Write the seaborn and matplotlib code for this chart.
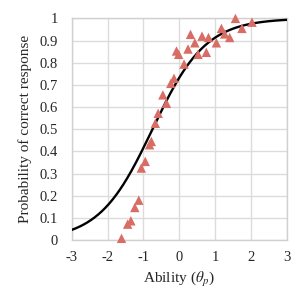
import numpy as np
import pandas as pd
import seaborn as sns
import matplotlib.pyplot as plt

ability = [1.56, 2.02, 1.74, 1.17, 1.26, 1.40, 1.03, 0.31, 0.63, 0.81, 0.43,
           0.24, -0.08, -0.02, 0.52, 0.75, 0.13, -0.15, -0.24, -0.46, -0.36,
           -0.59, -0.67, -0.78, -0.83, -0.95, -1.06, -1.13, -1.24, -1.35,
           -1.44, -1.61]
p_correct = [1.0, 0.983, 0.955, 0.955, 0.93, 0.914, 0.89, 0.928, 0.92, 0.914,
             0.89, 0.862, 0.853, 0.838, 0.838, 0.847, 0.794, 0.73, 0.707,
             0.655, 0.617, 0.572, 0.527, 0.445, 0.43, 0.355, 0.325, 0.18,
             0.147, 0.087, 0.072, 0.008]

# item characteristic curve parameters (2PL)
discrimination = 1.35
difficulty = -0.75

x_ticks = [-3, -2, -1, 0, 1, 2, 3]
y_ticks = [0, 0.1, 0.2, 0.3, 0.4, 0.5, 0.6, 0.7, 0.8, 0.9, 1]
y_ticklabels = ['0', '0.1', '0.2', '0.3', '0.4', '0.5', '0.6', '0.7', '0.8', '0.9', '1']

obs_df = pd.DataFrame({'theta': ability, 'p': p_correct})
theta_grid = np.linspace(-3, 3, 300)
icc_df = pd.DataFrame({'theta': theta_grid,
                       'p': 1 / (1 + np.exp(-discrimination * (theta_grid - difficulty)))})

sns.set_style("white")
plt.rcParams['font.family'] = ['Liberation Serif', 'DejaVu Serif']
plt.rcParams['mathtext.fontset'] = 'stix'
plt.rcParams['axes.unicode_minus'] = False

fig = plt.figure(figsize=(3.02, 3.02), dpi=100)
ax = fig.add_axes([0.237, 0.205, 0.714, 0.734])

sns.lineplot(data=icc_df, x='theta', y='p', color='black', linewidth=1.7, ax=ax, zorder=3)
sns.scatterplot(data=obs_df, x='theta', y='p', marker='^', s=46, color='#d86d65',
                edgecolor='none', ax=ax, zorder=4, clip_on=False)

ax.set_xlim(-3, 3)
ax.set_ylim(0, 1)
ax.set_xticks(x_ticks)
ax.set_yticks(y_ticks)
ax.set_yticklabels(y_ticklabels)
ax.grid(True, color='#dcdcdc', linewidth=1)
for s in ax.spines.values():
    s.set_color('#d0d0d0')
    s.set_linewidth(1)
ax.tick_params(length=0, labelsize=10.5, pad=8)
ax.tick_params(axis='y', pad=10)

ax.set_xlabel(r'Ability ($\theta_p$)', fontsize=11, labelpad=4)
ax.set_ylabel('Probability of correct response', fontsize=11, labelpad=5)

fig.savefig('out.png', dpi=100)
